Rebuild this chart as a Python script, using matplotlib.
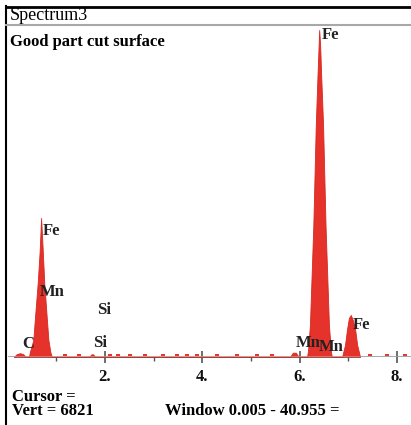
import numpy as np
import matplotlib.pyplot as plt
from matplotlib.lines import Line2D

# Spectrum outline (energy in keV, counts)
c_kev = [0.13, 0.19, 0.26, 0.32, 0.38]
c_cts = [0, 60, 80, 60, 0]

feL_kev = [0.44, 0.46, 0.53, 0.565, 0.62, 0.66, 0.69, 0.72, 0.755, 0.805, 0.84, 0.88, 0.91]
feL_cts = [0, 104, 355, 834, 1544, 2200, 2900, 2300, 1544, 834, 355, 104, 0]

si_kev = [1.68, 1.72, 1.76, 1.80]
si_cts = [0, 55, 55, 0]

mn_kev = [5.80, 5.86, 5.92, 5.98]
mn_cts = [0, 90, 90, 0]

feKa_kev = [6.15, 6.17, 6.21, 6.28, 6.33, 6.37, 6.40, 6.42, 6.44, 6.48, 6.53, 6.60, 6.64, 6.66]
feKa_cts = [0, 120, 668, 2754, 4840, 6000, 6821, 6500, 5900, 4840, 2754, 668, 120, 0]

feKb_kev = [6.87, 6.93, 6.97, 7.01, 7.05, 7.09, 7.14, 7.18, 7.24]
feKb_cts = [0, 250, 563, 814, 876, 772, 563, 250, 0]

# small noise dashes along the baseline
noise_kev = [1.18, 1.47, 2.10, 2.27, 2.52, 2.82, 3.20, 3.48, 3.68, 3.89,
             4.30, 4.71, 5.12, 5.43, 7.44, 7.79, 8.16]
noise_cts = [40, 35, 35, 40, 35, 40, 35, 40, 35, 35, 40, 35, 40, 35, 40, 35, 40]

# element labels: text, energy, counts
labels = ['Fe', 'Mn', 'C', 'Si', 'Si', 'Mn', 'Mn', 'Fe', 'Fe']
label_kev = [0.73, 0.67, 0.30, 1.84, 1.76, 5.92, 6.39, 7.09, 6.46]
label_cts = [2628, 1356, 271, 980, 292, 292, 209, 667, 6717]

major_ticks = [2, 4, 6, 8]
minor_ticks = [1, 3, 5, 7]

vmax = 6821
W, H = 411, 425
red = '#e5322a'

plt.rcParams['font.family'] = ['Liberation Serif', 'DejaVu Serif']
fig = plt.figure(figsize=(W / 100, H / 100), dpi=100)
fig.patch.set_facecolor('white')

# axes: x=0 keV at px 7.5, 48.7 px per keV; baseline at py 357, top at py 25
x0, ppk = 7.5, 48.7
ax = fig.add_axes([x0 / W, 1 - 357 / H, 1 - x0 / W, (357 - 25) / H])
ax.set_xlim(0, (W - x0) / ppk)
ax.set_ylim(0, vmax * 332 / 327)
ax.patch.set_alpha(0)
for s in ax.spines.values():
    s.set_visible(False)

kev = np.concatenate([c_kev, feL_kev, si_kev, mn_kev, feKa_kev, feKb_kev])
cts = np.concatenate([c_cts, feL_cts, si_cts, mn_cts, feKa_cts, feKb_cts])
ax.fill_between(kev, 0, cts, color=red, lw=0.6, edgecolor='#d8281f', zorder=2)
ax.axhline(0, color='#9a9a9a', lw=1.2, zorder=3)
ax.hlines(noise_cts, np.array(noise_kev) - 0.04, np.array(noise_kev) + 0.04,
          color=red, lw=1.4, zorder=4)

for t, e, c in zip(labels, label_kev, label_cts):
    ax.text(e, c, t, ha='left', va='center', fontsize=12, fontweight='bold',
            color='#222222', zorder=5)

ax.set_yticks([])
ax.set_xticks(major_ticks)
ax.set_xticks(minor_ticks, minor=True)
ax.set_xticklabels([f'{t}.' for t in major_ticks], fontsize=12, fontweight='bold')
ax.tick_params(axis='x', which='major', direction='inout', length=9, width=1.2,
               color='#555555', pad=4, labelcolor='#111111')
ax.tick_params(axis='x', which='minor', direction='out', length=3, width=1,
               color='#555555')

# frame of the window
def fx(px):
    return px / W

def fy(py):
    return 1 - py / H

fig.add_artist(Line2D([fx(6), fx(6)], [fy(6), 0], color='black', lw=1.5))
fig.add_artist(Line2D([fx(6), 1], [fy(7), fy(7)], color='black', lw=2))
fig.add_artist(Line2D([fx(6), 1], [fy(25), fy(25)], color='#a8a8a8', lw=1.5))

fig.text(fx(10), fy(16), 'Spectrum3', ha='left', va='center', fontsize=13)
fig.text(fx(10), fy(42), 'Good part cut surface', ha='left', va='center',
         fontsize=12, fontweight='bold')
fig.text(fx(12), fy(404), 'Cursor =\nVert = 6821', ha='left', va='center',
         fontsize=12, fontweight='bold', linespacing=0.85)
fig.text(fx(165), fy(411), 'Window 0.005 - 40.955 =', ha='left', va='center',
         fontsize=12, fontweight='bold')

fig.savefig('out.png', dpi=100)
